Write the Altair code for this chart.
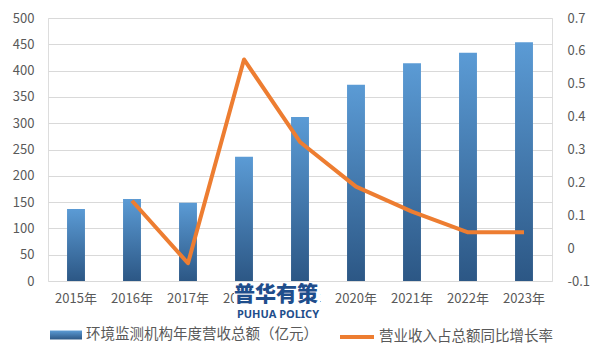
import altair as alt
import pandas as pd

years = ["2015年", "2016年", "2017年", "2018年", "2019年", "2020年", "2021年", "2022年", "2023年"]
revenue = [137, 156, 149, 236, 312, 373, 414, 434, 454]
growth = [None, 0.144, -0.046, 0.574, 0.323, 0.187, 0.111, 0.048, 0.048]
bar_series = "环境监测机构年度营收总额（亿元）"
line_series = "营业收入占总额同比增长率"
left_ticks = [0, 50, 100, 150, 200, 250, 300, 350, 400, 450, 500]
right_ticks = [-0.1, 0, 0.1, 0.2, 0.3, 0.4, 0.5, 0.6, 0.7]
watermark_cn = "普华有策"
watermark_en = "PUHUA POLICY"

df = pd.DataFrame({
    "year": years,
    "revenue": revenue,
    "growth": growth,
    "bar_s": bar_series,
    "line_s": line_series,
})

FONT = "Noto Sans CJK SC"
GREY = "#595959"

x = alt.X(
    "year:N", sort=years,
    scale=alt.Scale(paddingInner=0.68, paddingOuter=0.34),
    axis=alt.Axis(title=None, labelAngle=0, ticks=False, domain=False, grid=False,
                  labelPadding=11, labelFontSize=13, labelColor=GREY, labelFont=FONT),
)

gradient = alt.Gradient(
    gradient="linear",
    stops=[alt.GradientStop(color="#5b9bd5", offset=0),
           alt.GradientStop(color="#2c5785", offset=1)],
    x1=0, x2=0, y1=0, y2=1,
)

bars = alt.Chart(df).mark_bar(color=gradient).encode(
    x=x,
    y=alt.Y("revenue:Q",
            scale=alt.Scale(domain=[0, 500], nice=False),
            axis=alt.Axis(values=left_ticks, title=None, ticks=False, domain=False,
                          gridColor="#d9d9d9", gridWidth=1, labelPadding=14,
                          labelFontSize=13, labelColor=GREY, labelFont=FONT)),
    opacity=alt.Opacity(
        "bar_s:N", scale=alt.Scale(range=[1]),
        legend=alt.Legend(title=None, orient="none", legendX=1, legendY=300,
                          symbolType="M-1,-0.28L1,-0.28L1,0.28L-1,0.28Z", symbolSize=1024,
                          labelFontSize=14.5, labelFont=FONT, labelColor=GREY,
                          labelOffset=3, labelLimit=400)),
)

line = alt.Chart(df).mark_line(strokeWidth=4, strokeJoin="round").encode(
    x=x,
    y=alt.Y("growth:Q",
            scale=alt.Scale(domain=[-0.1, 0.7], nice=False, zero=False),
            axis=alt.Axis(orient="right", values=right_ticks, title=None, ticks=False,
                          domain=False, grid=False, labelPadding=15,
                          labelFontSize=13, labelColor=GREY, labelFont=FONT,
                          labelExpr="replace(format(datum.value, '.1~f'), '\u2212', '-')")),
    stroke=alt.Stroke(
        "line_s:N", scale=alt.Scale(range=["#ed7d31"]),
        legend=alt.Legend(title=None, orient="none", legendX=290, legendY=300,
                          symbolType="stroke", symbolStrokeWidth=4, symbolSize=1156,
                          labelFontSize=14.5, labelFont=FONT, labelColor=GREY,
                          labelOffset=3, labelLimit=400)),
)

wm_df = pd.DataFrame({"cn": [watermark_cn], "en": [watermark_en]})

wm_bg = alt.Chart(wm_df).mark_rect(color="white").encode(
    x=alt.value(186), x2=alt.value(272), y=alt.value(266), y2=alt.value(305)
)
wm_cn = alt.Chart(wm_df).mark_text(
    font=FONT, fontSize=21, fontWeight=900, color="#1f4e8c", baseline="middle", align="center"
).encode(x=alt.value(228), y=alt.value(277), text="cn:N")
wm_en = alt.Chart(wm_df).mark_text(
    font="Noto Sans", fontSize=11, fontWeight="bold", color="#1f4e8c", baseline="middle", align="center"
).encode(x=alt.value(230), y=alt.value(297), text="en:N")

chart = alt.layer(bars, line, wm_bg, wm_cn, wm_en).resolve_scale(
    y="independent", opacity="independent", stroke="independent"
).properties(
    width=504, height=263,
    autosize=alt.AutoSizeParams(type="none"),
    padding={"left": 40, "top": 10, "right": 41, "bottom": 75},
).configure_view(stroke=None).configure(background="white")

chart.save("out.html", embed_options={"renderer": "svg", "actions": False})
